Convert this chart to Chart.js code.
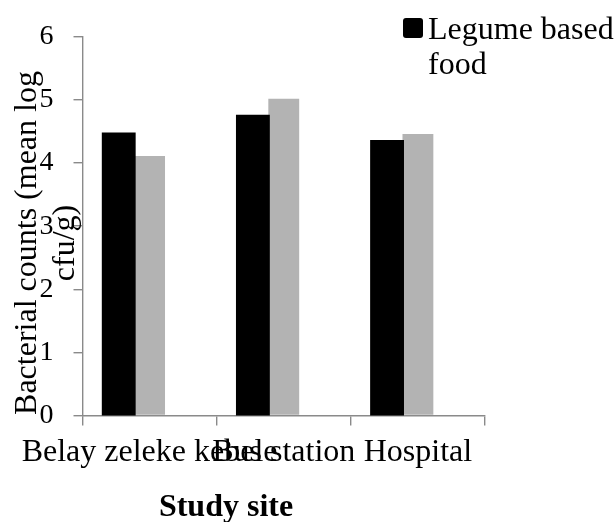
<!DOCTYPE html>
<html>
<head>
<meta charset="utf-8">
<script src="https://cdn.jsdelivr.net/npm/chart.js@4.4.1/dist/chart.umd.min.js"></script>
<style>
  html, body { margin: 0; padding: 0; background: #fff; }
  #wrap { width: 616px; height: 522px; position: relative; }
</style>
</head>
<body>
<div id="wrap"><canvas id="myChart"></canvas></div>
<script>
const sites = ['Belay zeleke kebele', 'Bus station', 'Hospital'];
const legumeFood = [4.46, 4.74, 4.34];
const secondFood = [4.11, 5.02, 4.46];
const thirdFood = [null, null, null]; // third series, not visible in the picture
const yTicks = [0, 1, 2, 3, 4, 5, 6];

const serif = "'Liberation Serif', 'Times New Roman', serif";
const axisGray = '#8a8a8a';

// axis titles and the (cropped) legend drawn on the canvas
const extraText = {
    id: 'extraText',
    afterDraw(chart) {
        const ctx = chart.ctx;
        ctx.save();
        ctx.fillStyle = '#000';
        ctx.textBaseline = 'alphabetic';

        // y title, two rotated lines
        ctx.font = '32px ' + serif;
        ctx.textAlign = 'center';
        const lines = ['Bacterial counts (mean log', 'cfu/g)'];
        const baseX = [36, 74];
        lines.forEach((t, i) => {
            ctx.save();
            ctx.translate(baseX[i], 243);
            ctx.rotate(-Math.PI / 2);
            ctx.fillText(t, 0, 0);
            ctx.restore();
        });

        // x title
        ctx.font = 'bold 32px ' + serif;
        ctx.fillText('Study site', 226, 516);

        // legend
        const ds = chart.data.datasets[0];
        ctx.fillStyle = ds.backgroundColor;
        ctx.beginPath();
        ctx.roundRect(403, 18, 20, 20, 3);
        ctx.fill();
        ctx.fillStyle = '#000';
        ctx.font = '32px ' + serif;
        ctx.textAlign = 'left';
        ctx.fillText('Legume based', 428, 39);
        ctx.fillText('food', 428, 74);
        ctx.restore();
    }
};

const data = {
    labels: sites,
    datasets: [
        { label: 'Legume based food', data: legumeFood, backgroundColor: '#000000', inflateAmount: 1.5 },
        { label: 'Series 2', data: secondFood, backgroundColor: '#b3b3b3', inflateAmount: 0 },
        { label: 'Series 3', data: thirdFood, backgroundColor: '#ffffff', inflateAmount: 0 }
    ]
};

const myChart = new Chart(document.getElementById('myChart'), {
    type: 'bar',
    data: data,
    options: {
        responsive: true,
        maintainAspectRatio: false,
        animation: false,
        datasets: {
            bar: { categoryPercentage: 0.69, barPercentage: 1.0, borderWidth: 0 }
        },
        layout: { padding: { top: 34, right: 131, bottom: 0, left: 0 } },
        plugins: {
            legend: { display: false },
            tooltip: { enabled: false }
        },
        scales: {
            x: {
                grid: { display: true, offset: true, drawOnChartArea: false, drawTicks: true, tickLength: 10, color: axisGray, lineWidth: 1.4 },
                border: { color: axisGray, width: 1.4 },
                ticks: {
                    color: '#000',
                    font: { family: serif, size: 32 },
                    maxRotation: 0, minRotation: 0, autoSkip: false, padding: 8
                },
                afterFit: s => { s.height = 106.5; }
            },
            y: {
                min: 0,
                max: 6,
                afterBuildTicks: s => { s.ticks = yTicks.map(v => ({ value: v })); },
                grid: { display: true, drawOnChartArea: false, drawTicks: true, tickLength: 9, color: axisGray, lineWidth: 1.4 },
                border: { color: axisGray, width: 1.4 },
                ticks: {
                    color: '#000',
                    font: { family: serif, size: 28 },
                    padding: 20
                },
                afterFit: s => { s.width = 82; }
            }
        }
    },
    plugins: [extraText]
});
</script>
</body>
</html>
